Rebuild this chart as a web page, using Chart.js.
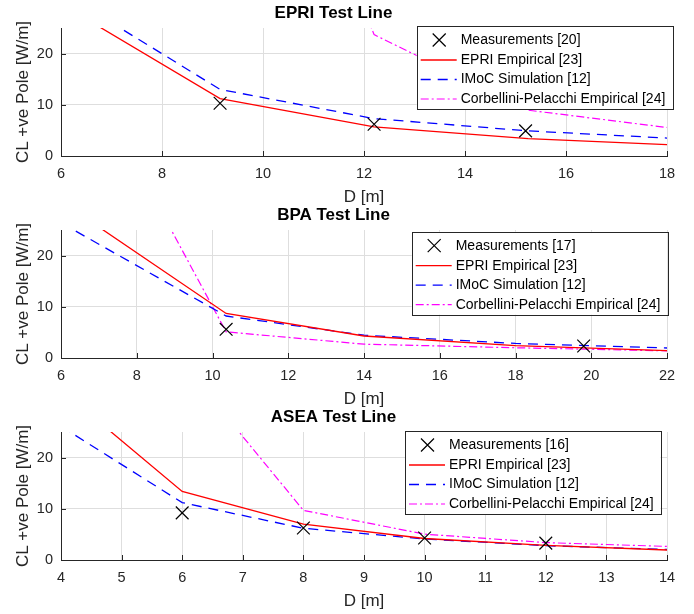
<!DOCTYPE html>
<html>
<head>
<meta charset="utf-8">
<title>Corona loss versus pole spacing</title>
<style>
  html, body { margin: 0; padding: 0; background: #ffffff; width: 694px; height: 614px; overflow: hidden; }
  canvas.panel { position: absolute; left: 0; }
</style>
<script src="https://cdn.jsdelivr.net/npm/chart.js@4.4.1/dist/chart.umd.min.js"></script>
</head>
<body>
<canvas id="epri" class="panel" width="694" height="216" style="top:0px"></canvas>
<canvas id="bpa" class="panel" width="694" height="216" style="top:202px"></canvas>
<canvas id="asea" class="panel" width="694" height="216" style="top:404px"></canvas>
<script>
// ---- shared labels and ticks ----
const yTicks = [0, 10, 20];
const yRange = [0, 25];
const yLabel = 'CL +ve Pole [W/m]';
const xLabel = 'D [m]';
const seriesNames = ['EPRI Empirical [23]', 'IMoC Simulation [12]', 'Corbellini-Pelacchi Empirical [24]'];

// ---- EPRI test line ----
const epriTitle = 'EPRI Test Line';
const epriMeasName = 'Measurements [20]';
const epriXTicks = [6, 8, 10, 12, 14, 16, 18];
const epriXRange = [6, 18];
const epriMeasX = [9.15, 12.2, 15.2];
const epriMeas = [10.3, 6.2, 4.9];
const epriLineX = [6.1, 9.15, 12.2, 15.25, 18.3];
const epriEmpirical = [29.1, 11.2, 5.7, 3.4, 2.1];
const epriImoc = [31.5, 13.0, 7.3, 4.9, 3.35];
const epriCorbellini = [null, 100, 23.7, 8.95, 5.2];

// ---- BPA test line ----
const bpaTitle = 'BPA Test Line';
const bpaMeasName = 'Measurements [17]';
const bpaXTicks = [6, 8, 10, 12, 14, 16, 18, 20, 22];
const bpaXRange = [6, 22];
const bpaMeasX = [10.36, 19.8];
const bpaMeas = [5.6, 2.35];
const bpaLineX = [6, 10.36, 14, 18, 22];
const bpaEmpirical = [30.6, 8.7, 4.3, 2.4, 1.45];
const bpaImoc = [26.4, 8.2, 4.45, 2.85, 1.95];
const bpaCorbellini = [65, 5.1, 2.7, 2.0, 1.4];

// ---- ASEA test line ----
const aseaTitle = 'ASEA Test Line';
const aseaMeasName = 'Measurements [16]';
const aseaXTicks = [4, 5, 6, 7, 8, 9, 10, 11, 12, 13, 14];
const aseaXRange = [4, 14];
const aseaMeasX = [6, 8, 10, 12];
const aseaMeas = [9.2, 6.25, 4.3, 3.3];
const aseaLineX = [4, 6, 8, 10, 12, 14];
const aseaEmpirical = [33.2, 13.4, 7.0, 4.2, 2.85, 1.95];
const aseaImoc = [26.1, 11.2, 6.2, 4.1, 2.8, 2.05];
const aseaCorbellini = [null, 38.5, 9.7, 5.05, 3.4, 2.65];

// ---- styling ----
const FONT = "'Liberation Sans', Arial, Helvetica, sans-serif";
const INK = '#262626';
const GRID = '#dedede';
const CANVAS_H = 216;
const PLOT_BOTTOM = 156;

function points(xs, ys) {
  return xs.map((x, i) => ({ x: x, y: ys[i] })).filter(p => p.y !== null && p.y !== undefined);
}

// inward tick marks plus a boxed legend drawn inside the plot area
const framePlugin = {
  id: 'frame',
  afterDraw(chart, args, opts) {
    const ctx = chart.ctx;
    const xs = chart.scales.x, ys = chart.scales.y;
    const area = chart.chartArea;
    ctx.save();
    ctx.strokeStyle = INK;
    ctx.lineWidth = 1;
    ctx.beginPath();
    xs.ticks.forEach(t => {
      const px = Math.round(xs.getPixelForValue(t.value)) + 0.5;
      ctx.moveTo(px, area.bottom);
      ctx.lineTo(px, area.bottom - 5);
    });
    ys.ticks.forEach(t => {
      const py = Math.round(ys.getPixelForValue(t.value)) + 0.5;
      ctx.moveTo(area.left, py);
      ctx.lineTo(area.left + 5, py);
    });
    ctx.stroke();

    const b = opts.box;
    ctx.fillStyle = '#ffffff';
    ctx.fillRect(b.x, b.y, b.w, b.h);
    ctx.strokeStyle = INK;
    ctx.lineWidth = 1;
    ctx.strokeRect(Math.round(b.x) + 0.5, Math.round(b.y) + 0.5, Math.round(b.w), Math.round(b.h));
    const rows = [14, 34, 53.5, 73];
    ctx.font = '14px ' + FONT;
    ctx.textBaseline = 'middle';
    ctx.textAlign = 'left';
    chart.data.datasets.forEach((ds, i) => {
      const cy = b.y + rows[i];
      ctx.save();
      ctx.strokeStyle = ds.borderColor;
      ctx.lineWidth = ds.borderWidth;
      if (ds.showLine === false) {
        const cx = b.x + 22.5, r = 6.5;
        ctx.beginPath();
        ctx.moveTo(cx - r, cy - r); ctx.lineTo(cx + r, cy + r);
        ctx.moveTo(cx + r, cy - r); ctx.lineTo(cx - r, cy + r);
        ctx.stroke();
      } else {
        ctx.setLineDash(ds.borderDash || []);
        ctx.beginPath();
        ctx.moveTo(b.x + 4, cy);
        ctx.lineTo(b.x + 40, cy);
        ctx.stroke();
      }
      ctx.restore();
      ctx.fillStyle = '#000000';
      ctx.fillText(ds.label, b.x + 44, cy);
    });
    ctx.restore();
  }
};

function makeChart(id, cfg) {
  const datasets = [
    {
      label: cfg.measName,
      data: points(cfg.measX, cfg.meas),
      showLine: false,
      pointStyle: 'crossRot',
      pointRadius: 9,
      pointHoverRadius: 9,
      borderColor: '#000000',
      backgroundColor: 'rgba(0,0,0,0)',
      borderWidth: 1.2
    },
    {
      label: seriesNames[0],
      data: points(cfg.lineX, cfg.empirical),
      showLine: true,
      pointRadius: 0,
      borderColor: '#ff0000',
      borderWidth: 1.3
    },
    {
      label: seriesNames[1],
      data: points(cfg.lineX, cfg.imoc),
      showLine: true,
      pointRadius: 0,
      borderColor: '#0000ff',
      borderWidth: 1.3,
      borderDash: [10, 7]
    },
    {
      label: seriesNames[2],
      data: points(cfg.lineX, cfg.corbellini),
      showLine: true,
      pointRadius: 0,
      borderColor: '#ff00ff',
      borderWidth: 1.2,
      borderDash: [8, 3, 2, 3]
    }
  ];

  return new Chart(document.getElementById(id), {
    type: 'scatter',
    data: { datasets: datasets },
    plugins: [framePlugin],
    options: {
      responsive: false,
      animation: false,
      devicePixelRatio: 1,
      layout: { padding: { left: 0, right: 27, top: 0, bottom: 0 } },
      plugins: {
        legend: { display: false },
        tooltip: { enabled: false },
        title: {
          display: true,
          text: cfg.title,
          color: '#000000',
          font: { family: FONT, size: 17, weight: 'bold' },
          padding: { top: 3.3, bottom: 4.3 }
        },
        frame: { box: cfg.legendBox }
      },
      scales: {
        x: {
          type: 'linear',
          min: cfg.xRange[0],
          max: cfg.xRange[1],
          afterBuildTicks: s => { s.ticks = cfg.xTicks.map(v => ({ value: v })); },
          afterFit: s => { s.height = CANVAS_H - PLOT_BOTTOM; },
          grid: { color: GRID, lineWidth: 1, drawTicks: false },
          border: { display: true, color: INK, width: 1 },
          ticks: { color: INK, font: { family: FONT, size: 14.5 }, padding: 9, maxRotation: 0, autoSkip: false },
          title: { display: true, text: xLabel, color: INK, font: { family: FONT, size: 17 }, padding: { top: 0, bottom: 8.3 } }
        },
        y: {
          type: 'linear',
          min: yRange[0],
          max: yRange[1],
          afterBuildTicks: s => { s.ticks = yTicks.map(v => ({ value: v })); },
          afterFit: s => { s.width = 61; },
          grid: { color: GRID, lineWidth: 1, drawTicks: false },
          border: { display: true, color: INK, width: 1 },
          ticks: { color: INK, font: { family: FONT, size: 14.5 }, padding: 8 },
          title: { display: true, text: yLabel, color: INK, font: { family: FONT, size: 17 }, padding: { top: 12.8, bottom: 0 } }
        }
      }
    }
  });
}

makeChart('epri', {
  title: epriTitle, measName: epriMeasName,
  xRange: epriXRange, xTicks: epriXTicks,
  measX: epriMeasX, meas: epriMeas, lineX: epriLineX,
  empirical: epriEmpirical, imoc: epriImoc, corbellini: epriCorbellini,
  legendBox: { x: 416.7, y: 26, w: 256, h: 83 }
});

makeChart('bpa', {
  title: bpaTitle, measName: bpaMeasName,
  xRange: bpaXRange, xTicks: bpaXTicks,
  measX: bpaMeasX, meas: bpaMeas, lineX: bpaLineX,
  empirical: bpaEmpirical, imoc: bpaImoc, corbellini: bpaCorbellini,
  legendBox: { x: 411.7, y: 29.7, w: 255.5, h: 83 }
});

makeChart('asea', {
  title: aseaTitle, measName: aseaMeasName,
  xRange: aseaXRange, xTicks: aseaXTicks,
  measX: aseaMeasX, meas: aseaMeas, lineX: aseaLineX,
  empirical: aseaEmpirical, imoc: aseaImoc, corbellini: aseaCorbellini,
  legendBox: { x: 405, y: 27, w: 255.5, h: 83 }
});
</script>
</body>
</html>
